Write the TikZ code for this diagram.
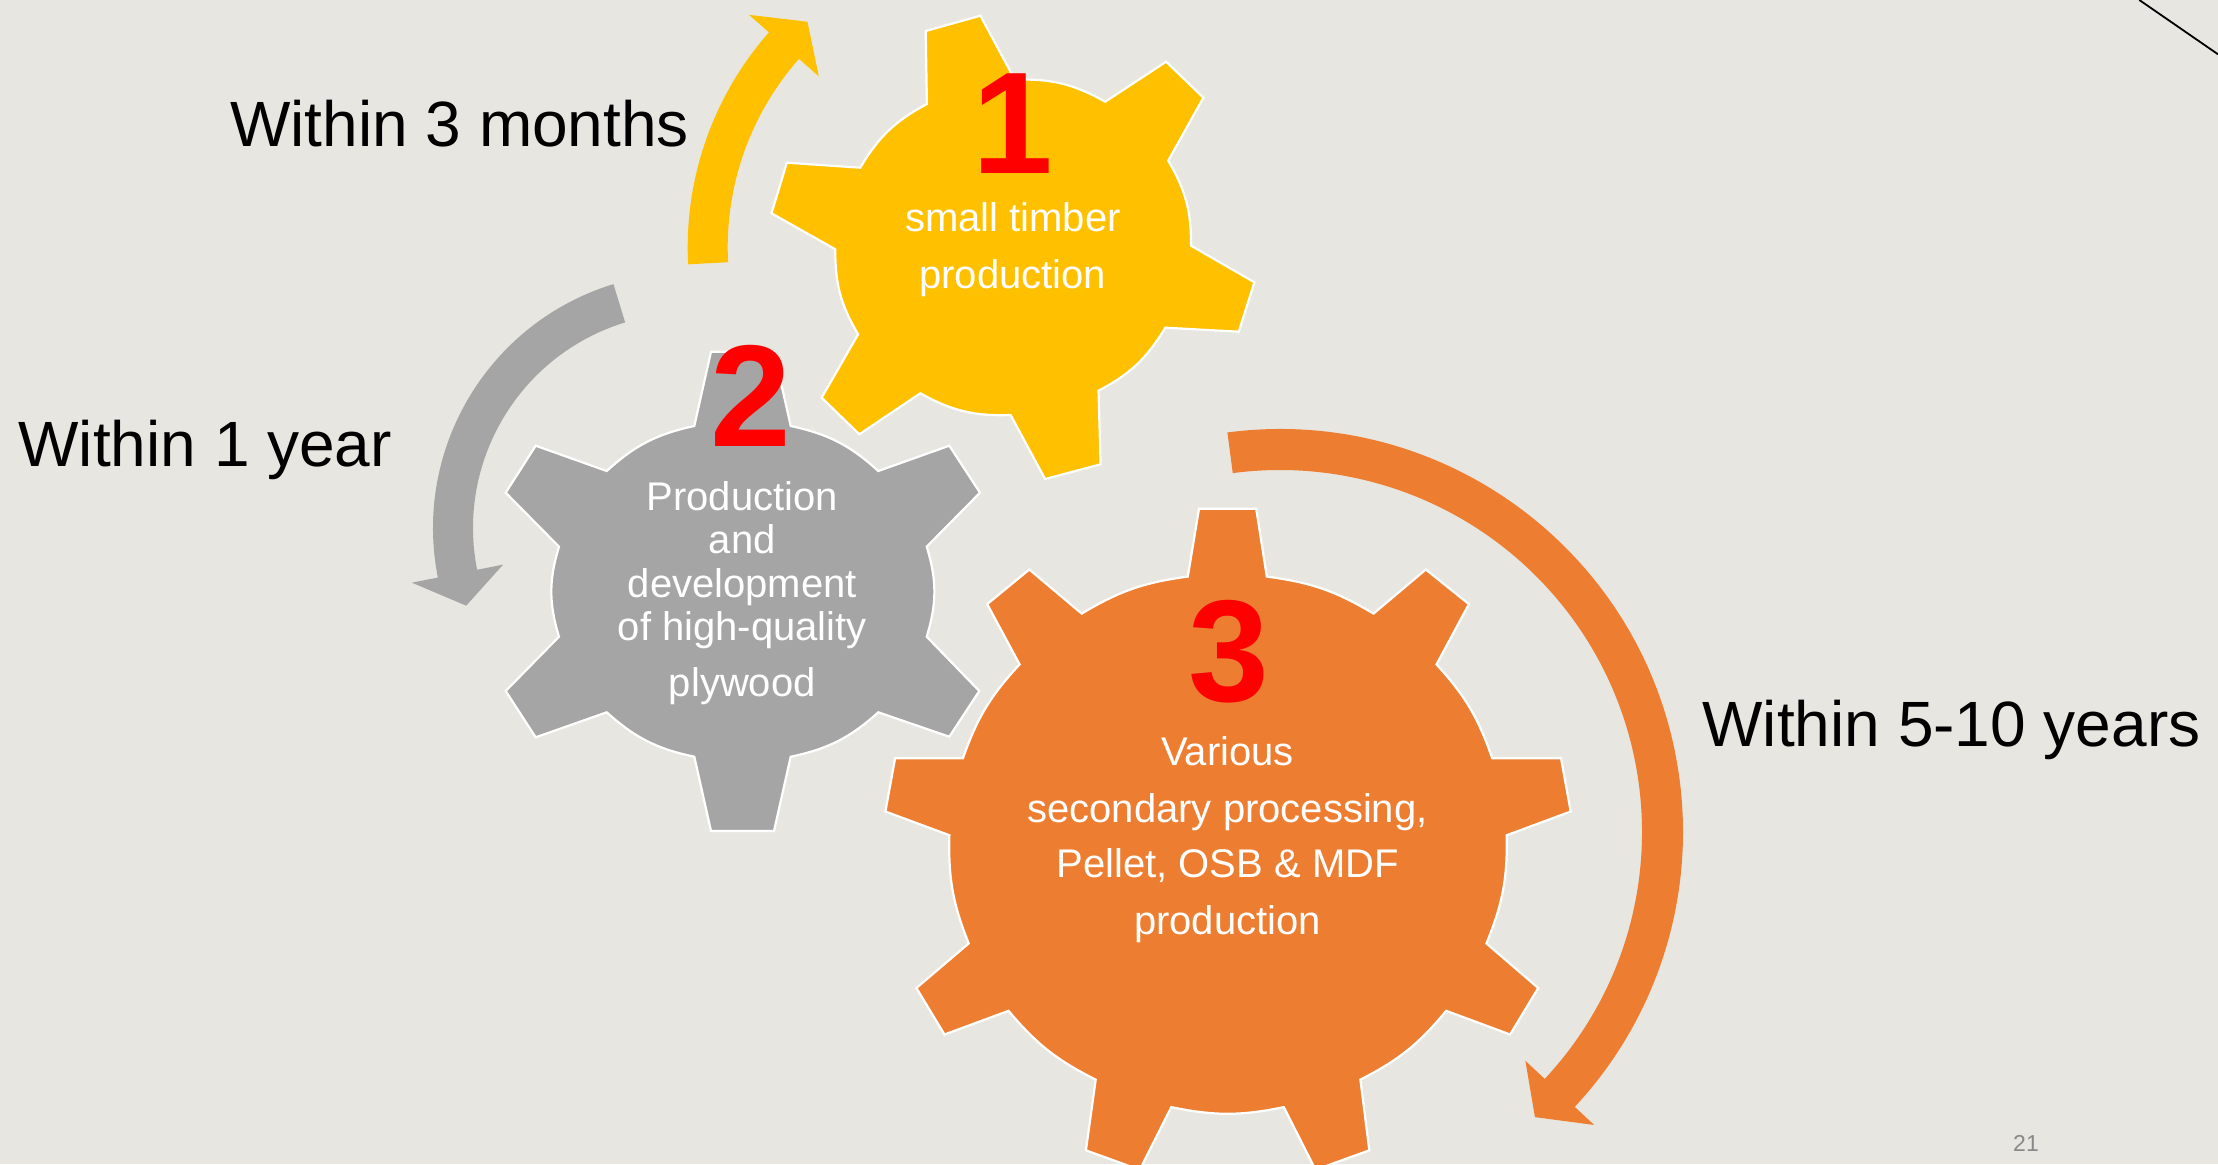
\documentclass[tikz,border=0pt]{standalone}
\usepackage{fontspec}
\setmainfont{Liberation Sans}
\definecolor{bgcol}{RGB}{232,230,224}
\definecolor{ycol}{RGB}{255,192,0}
\definecolor{gcol}{RGB}{165,165,165}
\definecolor{ocol}{RGB}{237,125,49}
\definecolor{numred}{RGB}{255,0,0}
\definecolor{pgcol}{RGB}{137,137,137}
\tikzset{
  lbl/.style={inner sep=0pt, anchor=base west, font=\fontsize{64}{64}\selectfont, text=black},
  gtxt/.style={inner sep=0pt, anchor=base, font=\fontsize{40}{40}\selectfont, text=white},
  num/.style={inner sep=0pt, anchor=base, font=\bfseries\fontsize{145}{145}\selectfont, text=numred},
  gearshape/.style={draw=white, line width=2.2pt, line join=miter},
}
\begin{document}
\begin{tikzpicture}[x=1pt,y=1pt]
\useasboundingbox (0,0) rectangle (2218,-1164);
\clip (0,0) rectangle (2218,-1164);
\fill[bgcol] (0,0) rectangle (2218,-1164);

% circular arrows
\fill[ycol, shift={(1012.7,-247.3)}] (183:325pt) arc[start angle=183, end angle=138.6, radius=325pt]
  -- (138.6:351.5pt) -- (132.3:305pt) -- (138.6:258.5pt) -- (138.6:285pt)
  arc[start angle=138.6, end angle=183, radius=285pt] -- cycle;
\fill[gcol, shift={(688,-528)}] (107:255pt) arc[start angle=107, end angle=191.2, radius=255pt]
  -- (191.2:281.5pt) -- (199.3:235pt) -- (191.2:188.5pt) -- (191.2:215pt)
  arc[start angle=191.2, end angle=107, radius=215pt] -- cycle;
\fill[ocol, shift={(1280,-832)}] (97.5:403pt) arc[start angle=97.5, end angle=-43, radius=403pt]
  -- (-43:429.5pt) -- (-48.2:382.5pt) -- (-43:335.5pt) -- (-43:362pt)
  arc[start angle=-43, end angle=97.5, radius=362pt] -- cycle;

% gear 1 (yellow)
\filldraw[gearshape, fill=ycol] (926.9,-104.0) -- (925.7,-31.0) -- (980.4,-15.7) -- (1014.8,-79.7)
  to[bend left=15.5] (1105.2,-101.7) -- (1166.1,-61.7) -- (1203.4,-97.7) -- (1168.2,-160.7)
  to[bend left=15.5] (1191.0,-245.7) -- (1254.4,-282.3) -- (1238.7,-331.7) -- (1165.3,-327.7)
  to[bend left=15.5] (1098.5,-390.7) -- (1100.6,-464.3) -- (1045.1,-479.0) -- (1010.6,-415.0)
  to[bend left=15.5] (920.3,-393.3) -- (859.3,-434.3) -- (821.6,-397.7) -- (858.1,-334.3)
  to[bend left=15.5] (835.3,-249.3) -- (771.5,-213.3) -- (786.8,-162.7) -- (860.2,-167.7)
  to[bend left=15.5] (926.9,-104.0) -- cycle;

% gear 2 (gray)
\filldraw[gearshape, fill=gcol] (694.3,-426) -- (711,-351.7) -- (774,-351.7) -- (790.7,-426)
  to[bend left=15] (878.3,-471) -- (949.3,-445.7) -- (980,-492.7) -- (926.7,-546.7)
  to[bend left=17] (926.7,-636.7) -- (979.3,-691) -- (949.3,-736.7) -- (878.3,-712.3)
  to[bend left=15] (790.7,-756.7) -- (774,-831) -- (711,-831) -- (694.3,-756.7)
  to[bend left=15] (606.7,-712.3) -- (535.7,-737.3) -- (505.7,-691) -- (559,-636.7)
  to[bend left=17] (559,-546.7) -- (505.7,-492.7) -- (535.7,-445.7) -- (606.7,-471)
  to[bend left=15] (694.3,-426) -- cycle;

% gear 3 (orange)
\filldraw[gearshape, fill=ocol] (1187.8,-576.6) -- (1199.0,-508.7) -- (1256.2,-508.7) -- (1266.8,-576.6)
  to[bend left=11.7] (1373.5,-613.6) -- (1425.8,-569.5) -- (1468.9,-604.1) -- (1436.5,-664.4)
  to[bend left=11.7] (1492.2,-758.3) -- (1561.0,-758.3) -- (1570.7,-811.5) -- (1506.7,-835.2)
  to[bend left=11.7] (1486.4,-943.4) -- (1538.2,-988.0) -- (1510.1,-1034.5) -- (1446.2,-1010.8)
  to[bend left=11.7] (1360.4,-1079.6) -- (1369.3,-1150.3) -- (1315.5,-1169.8) -- (1283.8,-1107.1)
  to[bend left=11.7] (1171.3,-1107.1) -- (1139.7,-1169.8) -- (1085.9,-1150.3) -- (1095.7,-1079.6)
  to[bend left=11.7] (1008.5,-1010.8) -- (944.5,-1034.5) -- (916.4,-988.0) -- (968.7,-943.4)
  to[bend left=11.7] (949.4,-835.2) -- (885.4,-811.5) -- (895.1,-758.3) -- (962.9,-758.3)
  to[bend left=11.7] (1019.6,-664.4) -- (987.2,-604.1) -- (1029.3,-569.5) -- (1081.7,-613.6)
  to[bend left=11.7] (1187.8,-576.6) -- cycle;

% numbers
\node[num] (n1) at (1013,-173.3) {1};
\node[num] (n2) at (751.3,-446.7) {2};
\node[num] (n3) at (1229.3,-701.5) {3};

% gear texts
\node[gtxt] (t1a) at (1013,-231.7) {small timber};
\node[gtxt] (t1b) at (1012.7,-288.3) {production};

\node[gtxt] (t2a) at (742.3,-510.7) {Production};
\node[gtxt] (t2b) at (742.3,-553.3) {and};
\node[gtxt] (t2c) at (742.3,-597.3) {development};
\node[gtxt] (t2d) at (742.3,-640.7) {of high-quality};
\node[gtxt] (t2e) at (742.3,-696.7) {plywood};

\node[gtxt] (t3a) at (1227.5,-765.4) {Various};
\node[gtxt] (t3b) at (1227.5,-822.4) {secondary processing,};
\node[gtxt] (t3c) at (1227.5,-877.9) {Pellet, OSB \& MDF};
\node[gtxt] (t3d) at (1227.5,-934.8) {production};

% outside labels
\node[lbl] (l1) at (230,-146.7) {Within 3 months};
\node[lbl] (l2) at (18.3,-466.7) {Within 1 year};
\node[lbl] (l3) at (1702.3,-746.7) {Within 5-10 years};

% page number and corner line
\node[inner sep=0pt, anchor=base, font=\fontsize{23}{23}\selectfont, text=pgcol] (pg) at (2026,-1151.7) {21};
\draw[line width=1.8pt, black] (2139.3,0) -- (2218,-54.3);
\end{tikzpicture}
\end{document}
